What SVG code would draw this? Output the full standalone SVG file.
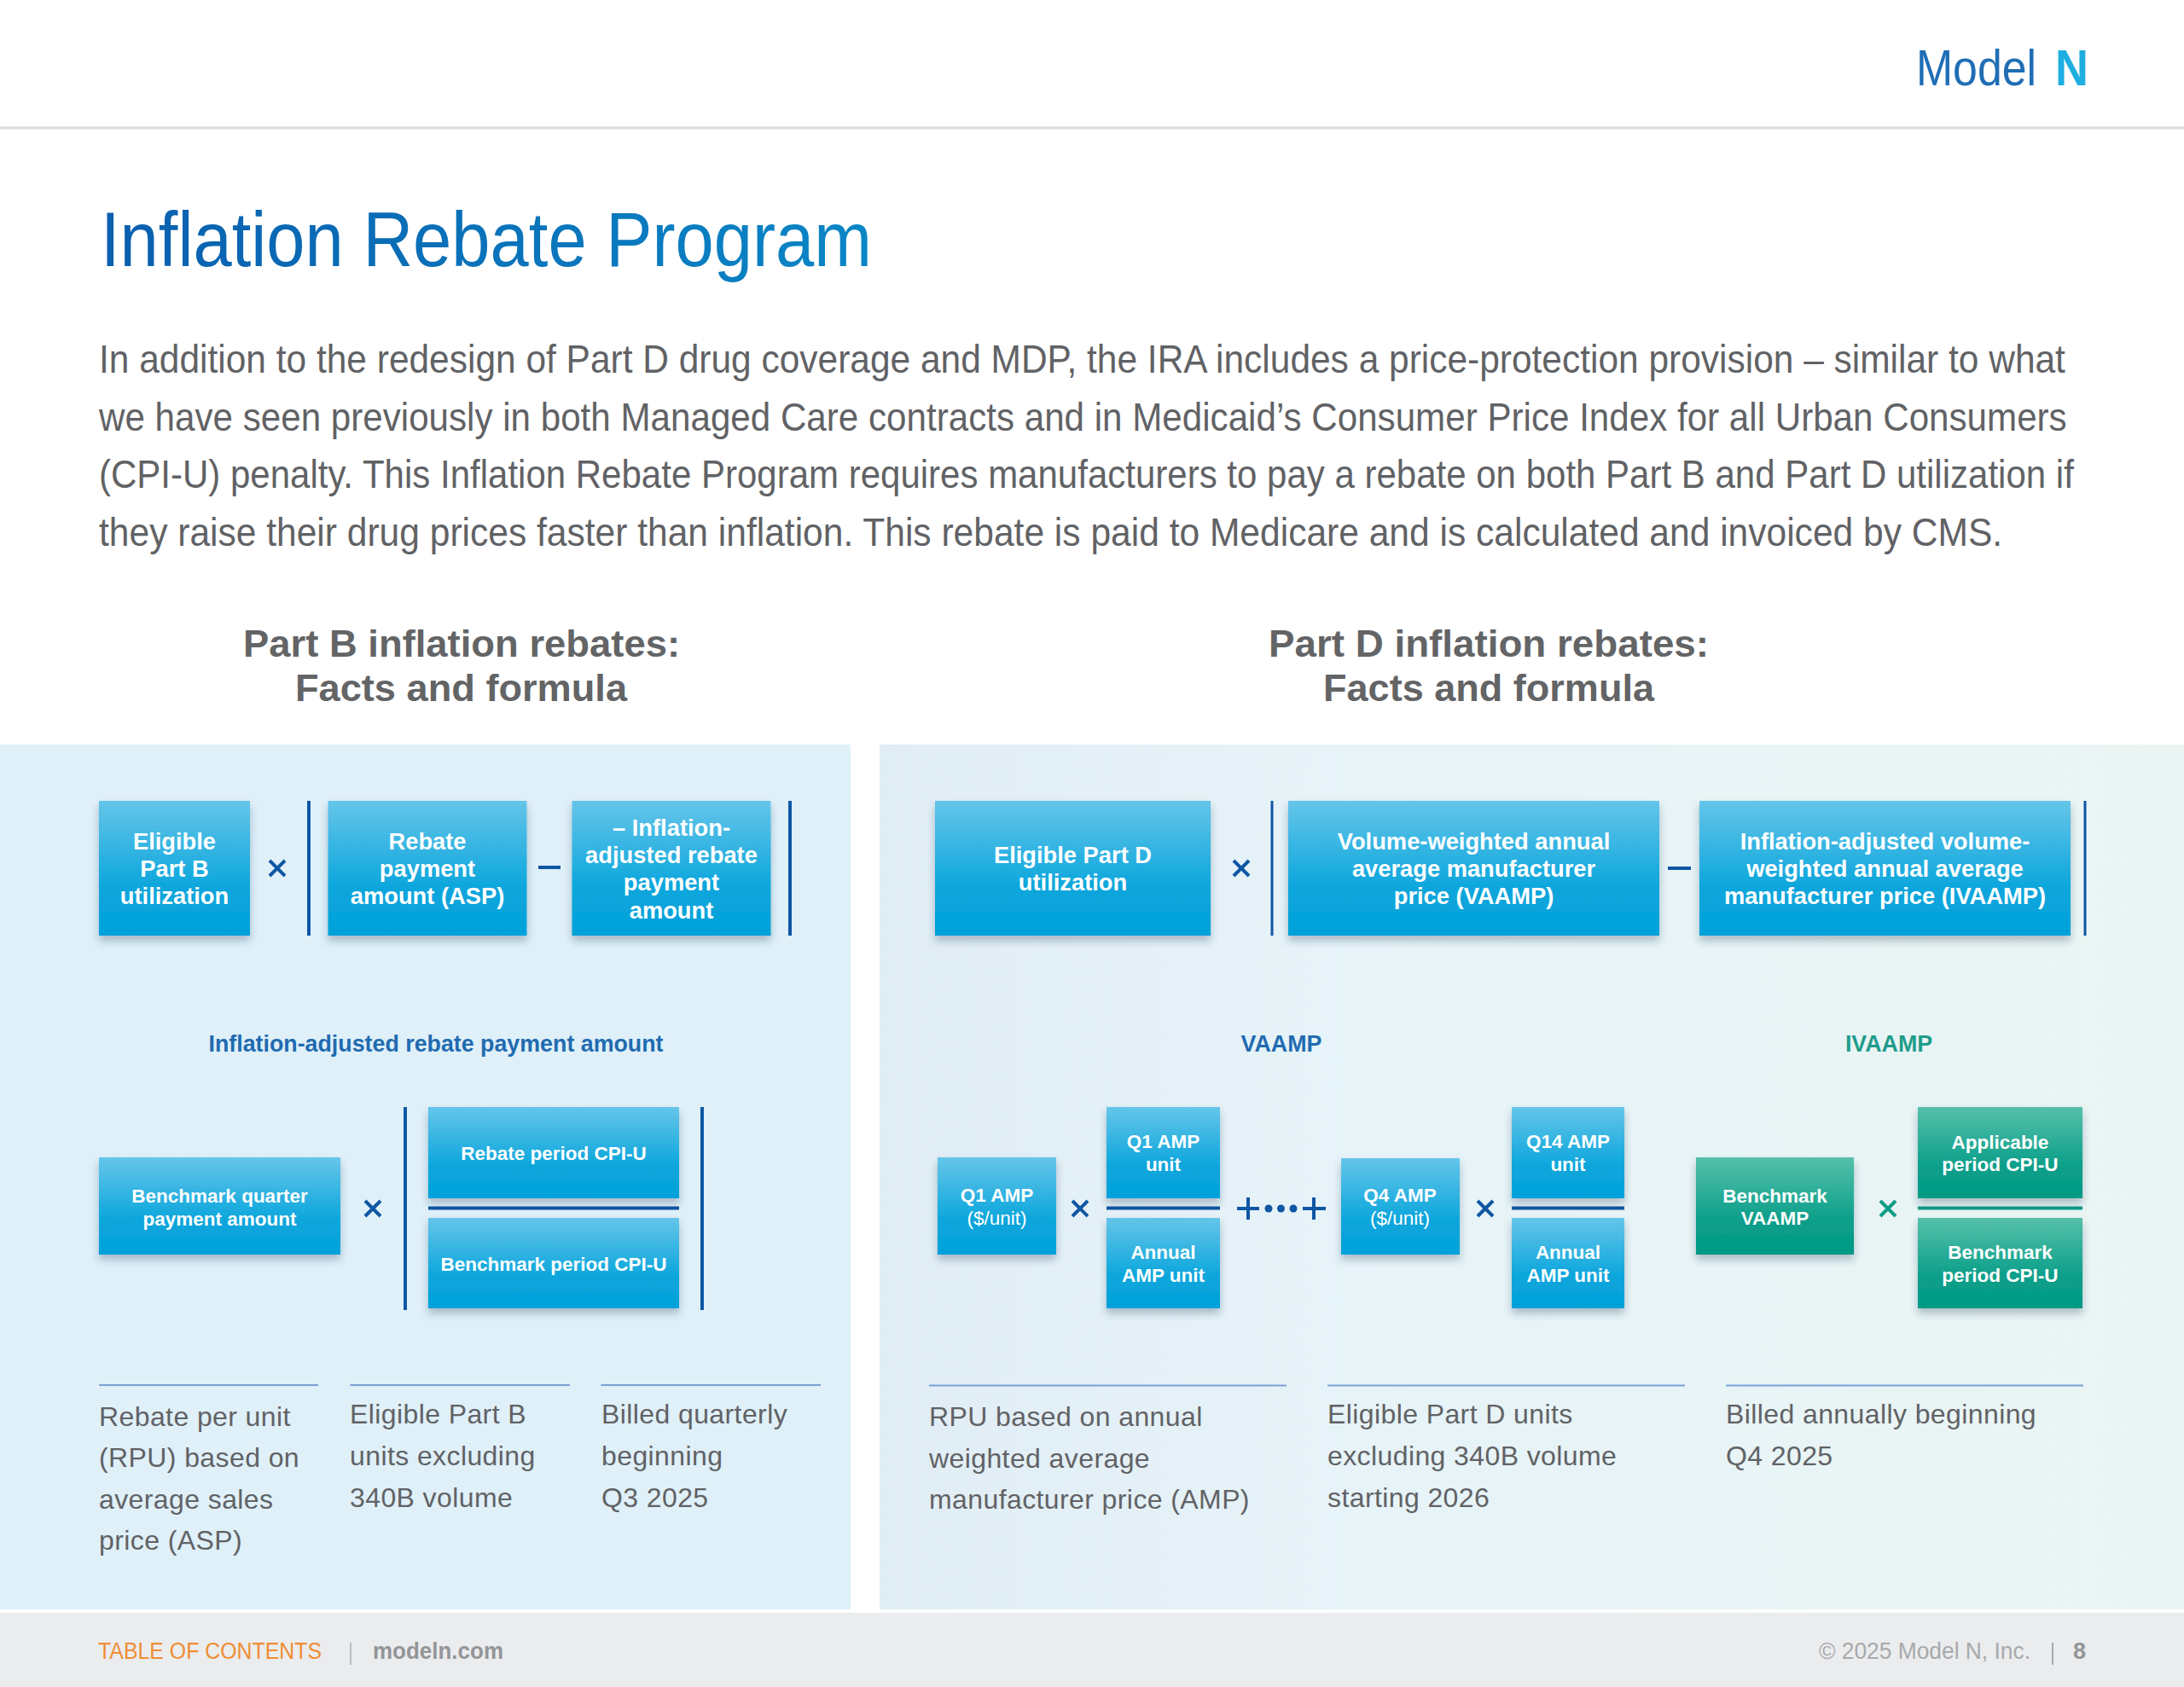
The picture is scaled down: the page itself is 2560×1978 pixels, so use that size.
<svg xmlns="http://www.w3.org/2000/svg" width="2560" height="1978" viewBox="0 0 2560 1978">
<style>
text{font-family:"Liberation Sans",Arial,sans-serif}
.box{filter:url(#sh)}
.bl{fill:url(#gb)}
.gr{fill:url(#gg)}
.t{fill:#fff;font-weight:700;font-size:27.300px;text-anchor:middle}
.s{fill:#fff;font-weight:700;font-size:22.500px;text-anchor:middle}
.r{font-weight:400}
.body{fill:#616265;font-size:46px}
.head{fill:#636466;font-size:44px;font-weight:700}
.sub{font-size:26.800px;font-weight:700;text-anchor:middle}
.note{fill:#616265;font-size:32px;letter-spacing:.4px}
.rule{stroke:#7c9fd6;stroke-width:2}
.op{stroke:#0f56a4;stroke-width:4;fill:none}
.bar{stroke:#0f56a4;stroke-width:4}
.g{stroke:#0e9c86}
</style>
<defs>
<linearGradient id="gb" x1="0" y1="0" x2="0" y2="1"><stop offset="0" stop-color="#65c5ea"/><stop offset=".65" stop-color="#0ba6dc"/><stop offset="1" stop-color="#02a1da"/></linearGradient>
<linearGradient id="gg" x1="0" y1="0" x2="0" y2="1"><stop offset="0" stop-color="#56c0aa"/><stop offset=".65" stop-color="#0b9f8a"/><stop offset="1" stop-color="#009a84"/></linearGradient>
<linearGradient id="gt" gradientUnits="userSpaceOnUse" x1="120" y1="0" x2="1020" y2="0"><stop offset="0" stop-color="#0a5fae"/><stop offset="1" stop-color="#0a86c6"/></linearGradient>
<linearGradient id="gp" x1="0" y1="0" x2="1" y2="0"><stop offset="0" stop-color="#e1edf5"/><stop offset=".35" stop-color="#e6f3f8"/><stop offset="1" stop-color="#eaf5f3"/></linearGradient>
<filter id="sh" x="-20%" y="-20%" width="140%" height="145%"><feDropShadow dx="0" dy="6" stdDeviation="5" flood-color="#1b3a55" flood-opacity=".3"/></filter>
</defs>
<rect width="2560" height="1978" fill="#fff"/>
<g id="header">
<rect x="0" y="148.500" width="2560" height="3" fill="#dddcd8"/>
<text x="2246" y="100" font-size="60" textLength="141" lengthAdjust="spacingAndGlyphs" fill="#1f6eb5">Model</text>
<text x="2409" y="100" font-size="60" font-weight="700" textLength="39" lengthAdjust="spacingAndGlyphs" fill="#1eaee0">N</text>
</g>
<text x="118" y="312" font-size="90" textLength="904" lengthAdjust="spacingAndGlyphs" fill="url(#gt)">Inflation Rebate Program</text>
<g id="intro" class="body">
<text transform="translate(116 436.500) scale(.9 1)" textLength="2561" lengthAdjust="spacingAndGlyphs">In addition to the redesign of Part D drug coverage and MDP, the IRA includes a price-protection provision – similar to what</text>
<text transform="translate(116 504.500) scale(.9 1)" textLength="2563" lengthAdjust="spacingAndGlyphs">we have seen previously in both Managed Care contracts and in Medicaid’s Consumer Price Index for all Urban Consumers</text>
<text transform="translate(116 572) scale(.9 1)" textLength="2572" lengthAdjust="spacingAndGlyphs">(CPI-U) penalty. This Inflation Rebate Program requires manufacturers to pay a rebate on both Part B and Part D utilization if</text>
<text transform="translate(116 640) scale(.9 1)" textLength="2479" lengthAdjust="spacingAndGlyphs">they raise their drug prices faster than inflation. This rebate is paid to Medicare and is calculated and invoiced by CMS.</text>
</g>
<g id="headings" class="head">
<text x="285" y="770" textLength="512" lengthAdjust="spacingAndGlyphs">Part B inflation rebates:</text>
<text x="346" y="822" textLength="389" lengthAdjust="spacingAndGlyphs">Facts and formula</text>
<text x="1487" y="770" textLength="516" lengthAdjust="spacingAndGlyphs">Part D inflation rebates:</text>
<text x="1551" y="822" textLength="388" lengthAdjust="spacingAndGlyphs">Facts and formula</text>
</g>
<g id="panels">
<rect x="0" y="873" width="997" height="1014" fill="#dff0f9"/>
<rect x="1031" y="873" width="1529" height="1014" fill="url(#gp)"/>
</g>
<g id="footer">
<rect x="0" y="1891" width="2560" height="87" fill="#ebeced"/>
<text x="115" y="1945" font-size="27" textLength="262" lengthAdjust="spacingAndGlyphs" fill="#ee8d35">TABLE OF CONTENTS</text>
<rect x="410" y="1926" width="2" height="26" fill="#bcbec0"/>
<text x="437" y="1945" font-size="27" font-weight="700" textLength="153" lengthAdjust="spacingAndGlyphs" fill="#939598">modeln.com</text>
<text x="2132" y="1945" font-size="27" textLength="248" lengthAdjust="spacingAndGlyphs" fill="#a7a9ac">© 2025 Model N, Inc.</text>
<rect x="2405" y="1926" width="2" height="26" fill="#a7a9ac"/>
<text x="2430" y="1945" font-size="27" font-weight="700" fill="#939598">8</text>
</g>
<g id="connectors">
<path class="bar" d="M362 939V1097M926 939V1097M475 1298V1536M823 1298V1536M502 1416.500H796"/>
<path class="op" d="M316 1009l18 18M334 1009l-18 18M631 1017H657M428 1408l18 18M446 1408l-18 18"/>
<path class="bar" style="stroke-width:3" d="M1491 939V1097M2444 939V1097"/>
<path class="op" d="M1446 1009l18 18M1464 1009l-18 18M1955 1018H1982"/>
<path class="bar" d="M1297 1416.500H1430M1772 1416.500H1904"/>
<path class="op" d="M1257 1408l18 18M1275 1408l-18 18M1450 1417H1476M1463 1404V1430M1527 1417H1554M1540 1404V1430M1732 1408l18 18M1750 1408l-18 18"/>
<circle cx="1487" cy="1417" r="4.500" fill="#0f56a4"/><circle cx="1501.500" cy="1417" r="4.500" fill="#0f56a4"/><circle cx="1516" cy="1417" r="4.500" fill="#0f56a4"/>
<path class="bar g" d="M2248 1416.500H2441"/>
<path class="op g" d="M2204 1408l18 18M2222 1408l-18 18"/>
</g>
<g id="n-eligible-b"><rect class="box bl" x="116" y="939" width="177" height="158"/><text class="t" x="204.500" y="996">Eligible</text><text class="t" x="204.500" y="1028">Part B</text><text class="t" x="204.500" y="1060">utilization</text></g>
<g id="n-rebate-asp"><rect class="box bl" x="384.500" y="939" width="233" height="158"/><text class="t" x="501" y="996">Rebate</text><text class="t" x="501" y="1028">payment</text><text class="t" x="501" y="1060">amount (ASP)</text></g>
<g id="n-inflation-adj"><rect class="box bl" x="670.500" y="939" width="233" height="158"/><text class="t" x="787" y="980">– Inflation-</text><text class="t" x="787" y="1012">adjusted rebate</text><text class="t" x="787" y="1044">payment</text><text class="t" x="787" y="1077">amount</text></g>
<g id="n-benchmark-q"><rect class="box bl" x="116" y="1357" width="283" height="114"/><text class="s" x="257.500" y="1410">Benchmark quarter</text><text class="s" x="257.500" y="1437">payment amount</text></g>
<g id="n-rebate-cpi"><rect class="box bl" x="502" y="1298" width="294" height="107"/><text class="s" x="649" y="1360">Rebate period CPI-U</text></g>
<g id="n-benchmark-cpi"><rect class="box bl" x="502" y="1428" width="294" height="106"/><text class="s" x="649" y="1490">Benchmark period CPI-U</text></g>
<g id="n-eligible-d"><rect class="box bl" x="1096" y="939" width="323" height="158"/><text class="t" x="1257.500" y="1012">Eligible Part D</text><text class="t" x="1257.500" y="1044">utilization</text></g>
<g id="n-vaamp"><rect class="box bl" x="1510" y="939" width="435" height="158"/><text class="t" x="1727.500" y="996">Volume-weighted annual</text><text class="t" x="1727.500" y="1028">average manufacturer</text><text class="t" x="1727.500" y="1060">price (VAAMP)</text></g>
<g id="n-ivaamp"><rect class="box bl" x="1992" y="939" width="435" height="158"/><text class="t" x="2209.500" y="996">Inflation-adjusted volume-</text><text class="t" x="2209.500" y="1028">weighted annual average</text><text class="t" x="2209.500" y="1060">manufacturer price (IVAAMP)</text></g>
<g id="n-q1"><rect class="box bl" x="1099" y="1357" width="139" height="114"/><text class="s" x="1168.500" y="1409">Q1 AMP</text><text class="s r" x="1168.500" y="1436">($/unit)</text></g>
<g id="n-q1u"><rect class="box bl" x="1297" y="1298" width="133" height="107"/><text class="s" x="1363.500" y="1346">Q1 AMP</text><text class="s" x="1363.500" y="1373">unit</text></g>
<g id="n-annual1"><rect class="box bl" x="1297" y="1428" width="133" height="106"/><text class="s" x="1363.500" y="1476">Annual</text><text class="s" x="1363.500" y="1503">AMP unit</text></g>
<g id="n-q4"><rect class="box bl" x="1572" y="1358" width="139" height="113"/><text class="s" x="1641" y="1409">Q4 AMP</text><text class="s r" x="1641" y="1436">($/unit)</text></g>
<g id="n-q14"><rect class="box bl" x="1772" y="1298" width="132" height="107"/><text class="s" x="1838" y="1346">Q14 AMP</text><text class="s" x="1838" y="1373">unit</text></g>
<g id="n-annual2"><rect class="box bl" x="1772" y="1428" width="132" height="106"/><text class="s" x="1838" y="1476">Annual</text><text class="s" x="1838" y="1503">AMP unit</text></g>
<g id="n-bench-vaamp"><rect class="box gr" x="1988" y="1357" width="185" height="114"/><text class="s" x="2080.500" y="1410">Benchmark</text><text class="s" x="2080.500" y="1436">VAAMP</text></g>
<g id="n-applicable"><rect class="box gr" x="2248" y="1298" width="193" height="107"/><text class="s" x="2344.500" y="1347">Applicable</text><text class="s" x="2344.500" y="1373">period CPI-U</text></g>
<g id="n-bench-cpi"><rect class="box gr" x="2248" y="1428" width="193" height="106"/><text class="s" x="2344.500" y="1476">Benchmark</text><text class="s" x="2344.500" y="1503">period CPI-U</text></g>
<g id="subtitles">
<text class="sub" x="511" y="1233" fill="#1f6bb0">Inflation-adjusted rebate payment amount</text>
<text class="sub" x="1502" y="1233" fill="#1f6bb0">VAAMP</text>
<text class="sub" x="2214" y="1233" fill="#1f9c8a">IVAAMP</text>
</g>
<g id="notes" class="note">
<path class="rule" d="M116 1624H373M410.500 1624H668M704.500 1624H962M1089 1624.500H1508M1556 1624.500H1975M2023 1624.500H2442"/>
<text x="116" y="1672">Rebate per unit</text><text x="116" y="1720">(RPU) based on</text><text x="116" y="1769">average sales</text><text x="116" y="1817">price (ASP)</text>
<text x="410" y="1669">Eligible Part B</text><text x="410" y="1718">units excluding</text><text x="410" y="1767">340B volume</text>
<text x="705" y="1669">Billed quarterly</text><text x="705" y="1718">beginning</text><text x="705" y="1767">Q3 2025</text>
<text x="1089" y="1672">RPU based on annual</text><text x="1089" y="1721">weighted average</text><text x="1089" y="1769">manufacturer price (AMP)</text>
<text x="1556" y="1669">Eligible Part D units</text><text x="1556" y="1718">excluding 340B volume</text><text x="1556" y="1767">starting 2026</text>
<text x="2023" y="1669">Billed annually beginning</text><text x="2023" y="1718">Q4 2025</text>
</g>
</svg>
